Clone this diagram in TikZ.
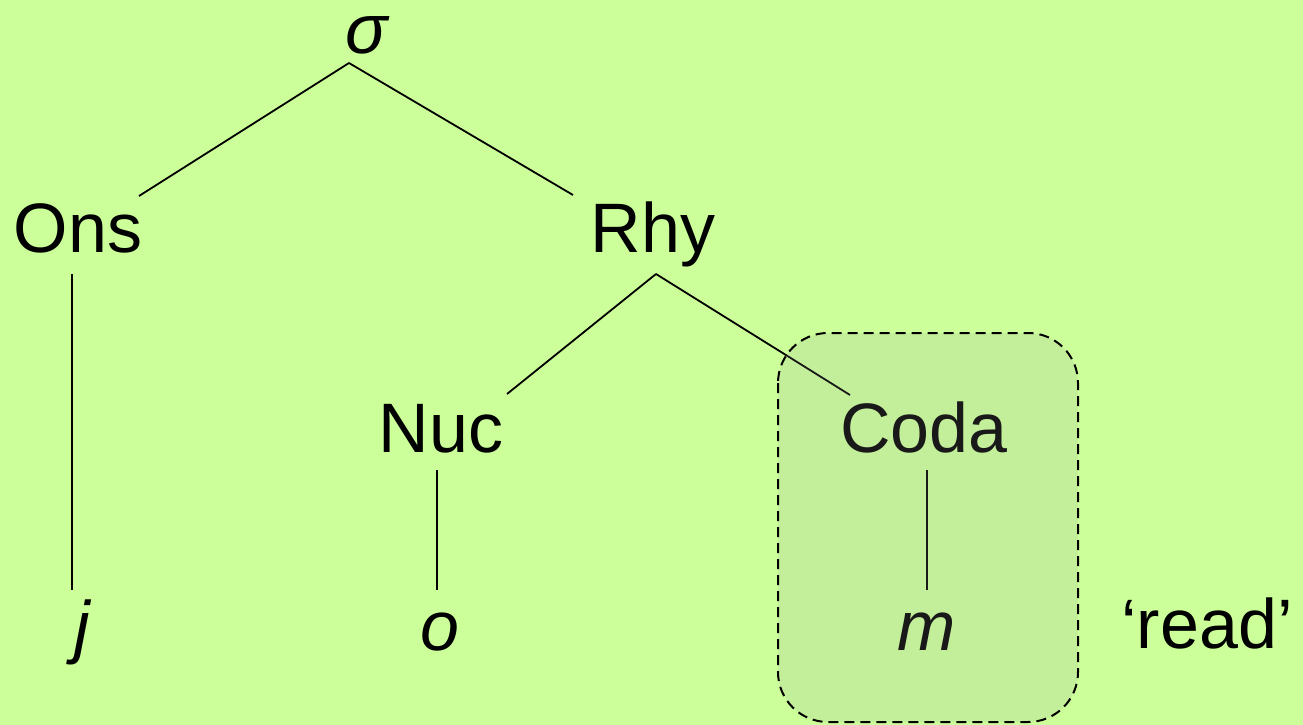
\documentclass[tikz,border=0pt]{standalone}
\usepackage{fontspec}
\setmainfont{Liberation Sans}
\definecolor{bggreen}{HTML}{CCFF99}
\definecolor{boxfill}{HTML}{A0A0A0}
\begin{document}
\begin{tikzpicture}[x=1pt,y=-1pt,
  lbl/.style={anchor=base,inner sep=0pt,font=\fontsize{70}{80}\selectfont},
  ilbl/.style={lbl,font=\fontsize{70}{80}\selectfont\itshape},
  edge/.style={line width=1.8pt,black},
  hilite/.style={draw=black,dashed,dash pattern=on 10pt off 6pt,line width=2pt,rounded corners=50pt,fill=boxfill,fill opacity=0.16}]
\fill[bggreen] (0,0) rectangle (1303,725);
\useasboundingbox (0,0) rectangle (1303,725);
% nodes
\node[ilbl,text height=36pt] (sig) at (367,53) {σ};
\node[lbl] (ons) at (78,252) {Ons};
\node[lbl] (rhy) at (653,252) {Rhy};
\node[lbl] (nuc) at (441,452) {Nuc};
\node[lbl] (coda) at (924,452) {Coda};
\node[ilbl] (j) at (82,650) {j};
\node[ilbl] (o) at (440,650) {o};
\node[ilbl] (m) at (927,650) {m};
\node[lbl] (gloss) at (1207,648) {‘read’};
% connector end points
\coordinate (sigB) at (349,63);
\coordinate (onsT) at (139,196);
\coordinate (rhyT) at (573,195);
\coordinate (onsB) at (72,274);
\coordinate (jT) at (72,590);
\coordinate (rhyB) at (656,274);
\coordinate (nucT) at (507,394);
\coordinate (codaT) at (850,395);
\coordinate (nucB) at (437,470);
\coordinate (oT) at (437,590);
\coordinate (codaB) at (927,470);
\coordinate (mT) at (927,590);
% connectors
\draw[edge] (sigB) -- (onsT);
\draw[edge] (sigB) -- (rhyT);
\draw[edge] (onsB) -- (jT);
\draw[edge] (rhyB) -- (nucT);
\draw[edge] (rhyB) -- (codaT);
\draw[edge] (nucB) -- (oT);
\draw[edge] (codaB) -- (mT);
% highlight box
\draw[hilite] (778,333) rectangle (1078,722);
\end{tikzpicture}
\end{document}
